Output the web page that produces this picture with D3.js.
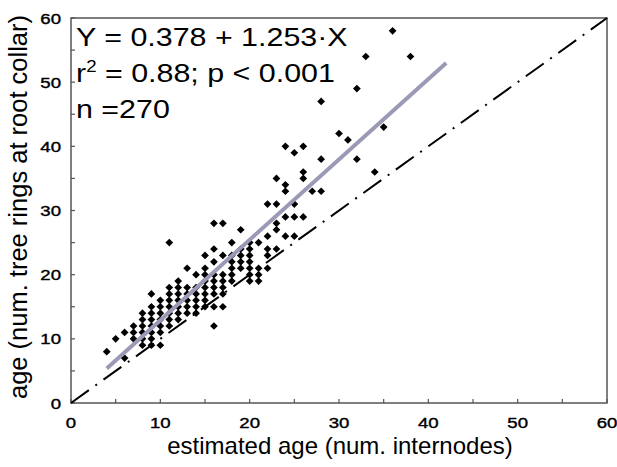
<!DOCTYPE html>
<html><head><meta charset="utf-8">
<script src="https://cdn.jsdelivr.net/npm/d3@7"></script>
<style>
body{margin:0;background:#fff;}
text{font-family:"Liberation Sans",Arial,sans-serif;fill:#000;}
</style></head>
<body><svg id="c" width="617" height="467"></svg>
<script>
// Observed points grouped by x (estimated age, internodes): list of y values (tree rings)
const xValues = [4,5,6,7,8,9,10,11,12,13,14,15,16,17,18,19,20,21,22,23,24,25,26,27,28,30,31,32,33,34,35,36,38];
const yByX = [
  [8],
  [10],
  [11,7],
  [12,11,10],
  [14,13,12,11,10,9],
  [17,15,14,13,12,11,10,9],
  [16,15,14,13,12,11,9],
  [25,18,17,16,15,14,13,12],
  [19,18,17,16,15,14,13],
  [21,18,17,16,15,14],
  [20,18,17,16,15,14],
  [23,21,20,19,18,17,16,15],
  [28,24,22,20,19,18,17,15,12],
  [28,23,20,19,18,17,15],
  [25,23,22,21,20,19],
  [27,24,23,22,21],
  [25,24,23,22,21,20,19],
  [25,21,20,19],
  [31,26,24,23,21],
  [35,31,28,27,24],
  [40,34,33,29,26],
  [39,31,29,26],
  [40,36,35,29],
  [33],
  [47,38,33],
  [42],
  [41],
  [49,38],
  [54],
  [36],
  [43],
  [58],
  [54]
];
const xTicks = [0,5,10,15,20,25,30,35,40,45,50,55,60];
const yTicks = [0,5,10,15,20,25,30,35,40,45,50,55,60];
const tickLabels = [0,10,20,30,40,50,60];
const intercept = 0.378, slope = 1.253, fitRange = [4,42];
const xTitle = "estimated age (num. internodes)";
const yTitle = "age (num. tree rings at root collar)";

const points = [];
xValues.forEach((xv,i)=>yByX[i].forEach(yv=>points.push({x:xv,y:yv})));

const svg = d3.select("#c");
const L=71,R=607,T=18,B=403;
const x = d3.scaleLinear().domain([0,60]).range([L,R]);
const y = d3.scaleLinear().domain([0,60]).range([B,T]);
const SX = 1.2;

// frame
svg.append("rect").attr("x",L).attr("y",T).attr("width",R-L).attr("height",B-T)
  .attr("fill","none").attr("stroke","#555").attr("stroke-width",1.5);

// ticks (inward)
svg.append("g").selectAll("line").data(xTicks).join("line")
  .attr("x1",d=>x(d)).attr("x2",d=>x(d)).attr("y1",B).attr("y2",B-4)
  .attr("stroke","#555").attr("stroke-width",1.2);
svg.append("g").selectAll("line").data(yTicks).join("line")
  .attr("x1",L).attr("x2",L+4).attr("y1",d=>y(d)).attr("y2",d=>y(d))
  .attr("stroke","#555").attr("stroke-width",1.2);

// tick labels
svg.append("g").selectAll("text").data(tickLabels).join("text")
  .attr("transform",d=>`translate(${x(d)},428) scale(${SX},1)`)
  .attr("text-anchor","middle").attr("font-size",15.5)
  .attr("stroke","#000").attr("stroke-width",0.4).text(d=>d);
svg.append("g").selectAll("text").data(tickLabels).join("text")
  .attr("transform",d=>`translate(61,${y(d)+5.5}) scale(${SX},1)`)
  .attr("text-anchor","end").attr("font-size",15.5)
  .attr("stroke","#000").attr("stroke-width",0.4).text(d=>d);

// 1:1 line
svg.append("line").attr("x1",x(0)).attr("y1",y(0)).attr("x2",x(60)).attr("y2",y(60))
  .attr("stroke","#000").attr("stroke-width",2).attr("stroke-dasharray","22,8,2,8");

// points
svg.append("g").selectAll("path").data(points).join("path")
  .attr("d",d3.symbol().type(d3.symbolSquare).size(30))
  .attr("transform",d=>`translate(${x(d.x)},${y(d.y)}) rotate(45)`)
  .attr("fill","#000");

// regression line
svg.append("line")
  .attr("x1",x(fitRange[0])).attr("y1",y(intercept+slope*fitRange[0]))
  .attr("x2",x(fitRange[1])).attr("y2",y(intercept+slope*fitRange[1]))
  .attr("stroke","#9a9ab6").attr("stroke-width",4);

// annotation
const ann = svg.append("g");
ann.append("text").attr("transform",`translate(76,46) scale(1.17,1)`).attr("font-size",26)
  .text("Y = 0.378 + 1.253\u00B7X");
const t2 = ann.append("text").attr("transform",`translate(76,82) scale(1.17,1)`).attr("font-size",26);
t2.append("tspan").text("r");
t2.append("tspan").attr("font-size",16).attr("dy",-10).text("2");
t2.append("tspan").attr("dy",10).text(" = 0.88; p < 0.001");
ann.append("text").attr("transform",`translate(76,118) scale(1.17,1)`).attr("font-size",26)
  .text("n =270");

// axis titles
svg.append("text").attr("x",340).attr("y",454).attr("text-anchor","middle").attr("font-size",24)
  .text(xTitle);
svg.append("text").attr("transform",`translate(27,207) rotate(-90)`).attr("text-anchor","middle")
  .attr("font-size",25.5).text(yTitle);
</script></body></html>
